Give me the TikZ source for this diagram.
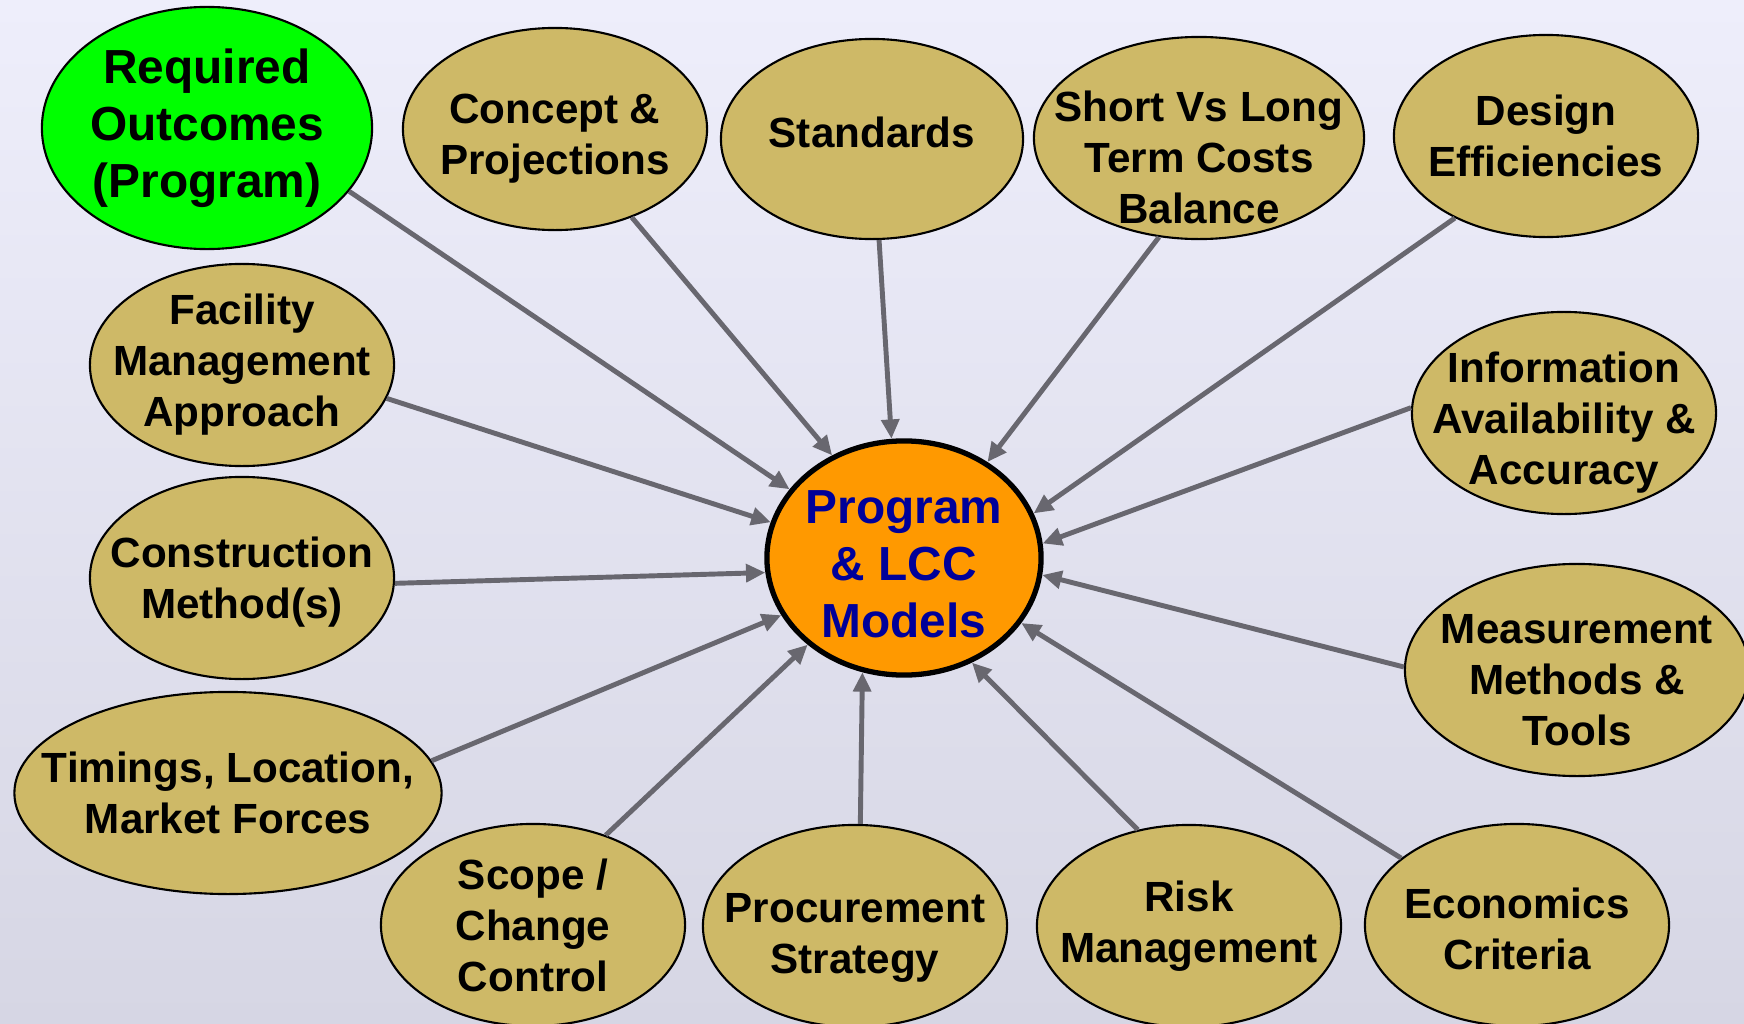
\documentclass[tikz,border=0pt]{standalone}
\usepackage{fontspec}
\setmainfont{Liberation Sans}
\usetikzlibrary{shapes.geometric,arrows.meta}
\definecolor{bgtop}{HTML}{EEEEFB}
\definecolor{bgbot}{HTML}{D6D6E4}
\definecolor{khaki}{HTML}{CEB967}
\definecolor{arrgray}{HTML}{68676F}
\definecolor{progblue}{HTML}{000099}
\definecolor{progorange}{HTML}{FF9900}
\tikzset{
  bub/.style={ellipse, draw=black, line width=0.6pt, fill=khaki, inner sep=0pt,
    minimum width=3.04cm, minimum height=2.02cm},
  txt/.style={font=\fontsize{12}{14.5}\selectfont\bfseries, align=center, inner sep=0pt},
  bigtxt/.style={font=\fontsize{13.6}{16.2}\selectfont\bfseries, align=center, inner sep=0pt},
  arr/.style={draw=arrgray, line width=1.4pt, -{Triangle[length=5.5pt,width=5pt]}}
}
\begin{document}
\begin{tikzpicture}[x=0.01cm, y=-0.01cm]
\useasboundingbox (0,0) rectangle (1744,1024);
\shade[top color=bgtop, bottom color=bgbot] (0,0) rectangle (1744,1024);

% centre
\node[ellipse, draw=black, line width=1.5pt, fill=progorange, inner sep=0pt,
  minimum width=2.74cm, minimum height=2.34cm,
  label={[bigtxt, text=progblue, yshift=-1.7pt]center:{Program\\\& LCC\\Models}}] (prog) at (904,558) {};

% top row
\node[bub, fill=green, minimum width=3.3cm, minimum height=2.42cm,
  label={[bigtxt]center:{Required\\Outcomes\\(Program)}}] (req) at (207,128) {};
\node[bub, label={[txt, yshift=-2.8pt]center:{Concept \&\\Projections}}] (concept) at (555,129) {};
\node[bub, minimum width=3.02cm, minimum height=2.0cm,
  label={[txt, yshift=1.9pt]center:{Standards}}] (stand) at (872,139) {};
\node[bub, minimum width=3.3cm,
  label={[txt, yshift=-5.4pt]center:{Short Vs Long\\Term Costs\\Balance}}] (short) at (1199,138) {};
\node[bub, label={[txt]center:{Design\\Efficiencies}}] (design) at (1546,136) {};

% left side
\node[bub, label={[txt]center:{Facility\\Management\\Approach}}] (facil) at (242,365) {};
\node[bub, label={[txt, yshift=-1.2pt]center:{Construction\\Method(s)}}] (constr) at (242,578) {};
\node[bub, minimum width=4.27cm, label={[txt]center:{Timings, Location,\\Market Forces}}] (timing) at (228,793) {};

% right side
\node[bub, label={[txt, yshift=-2.8pt]center:{Information\\Availability \&\\Accuracy}}] (info) at (1564,413) {};
\node[bub, minimum width=3.44cm, minimum height=2.12cm,
  label={[txt, yshift=-2.8pt]center:{Measurement\\Methods \&\\Tools}}] (measure) at (1577,670) {};

% bottom row
\node[bub, label={[txt]center:{Scope /\\Change\\Control}}] (scope) at (533,925) {};
\node[bub, label={[txt, yshift=-3.5pt]center:{Procurement\\Strategy}}] (procure) at (855,926) {};
\node[bub, label={[txt]center:{Risk\\Management}}] (risk) at (1189,926) {};
\node[bub, label={[txt, yshift=-1pt]center:{Economics\\Criteria}}] (econ) at (1517,925) {};

% spokes: source angle / target angle
\foreach \src/\out/\ang in {req/336/149, concept/311/125, stand/274/96, short/248/49,
  design/222/19, info/178/6, measure/179/353, econ/150/331, risk/118/303,
  procure/87/250, scope/51/222, timing/9/205, constr/358/186, facil/347/165}
  \draw[arr] (\src.\out) -- (prog.\ang);
\end{tikzpicture}
\end{document}
